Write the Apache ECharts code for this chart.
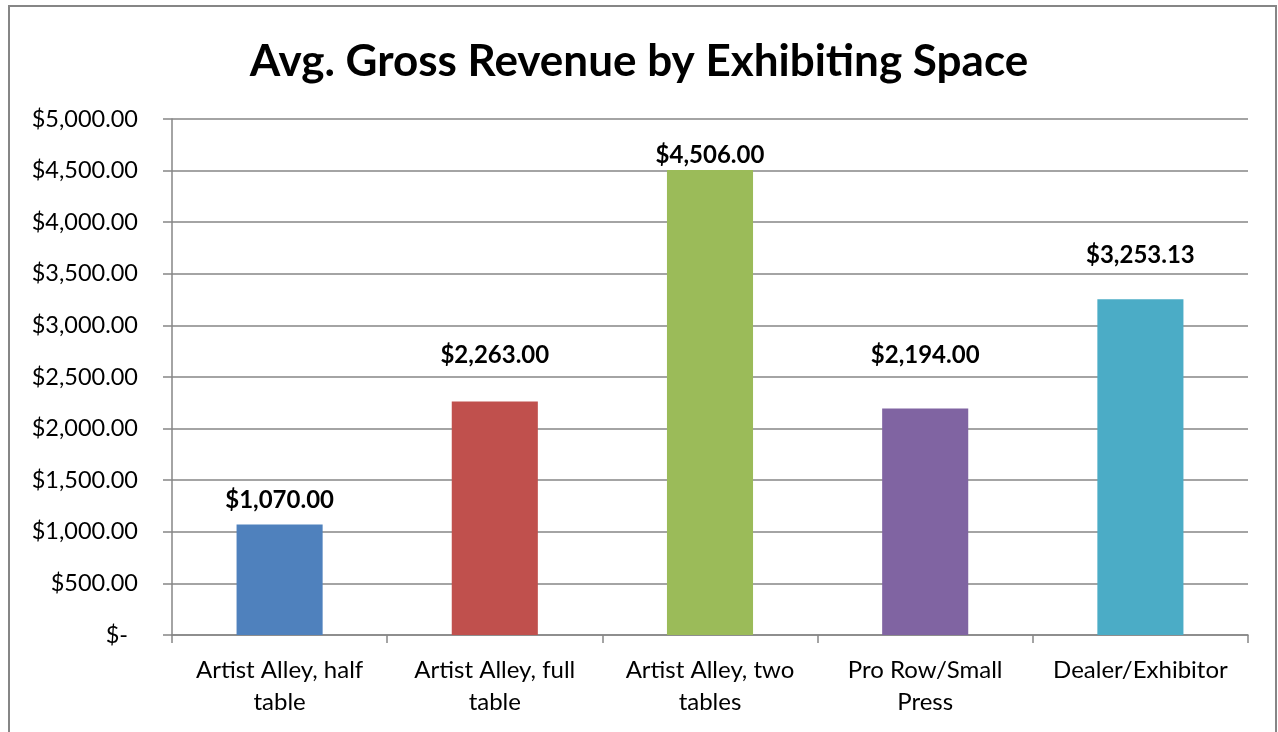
<!DOCTYPE html>
<html>
<head>
<meta charset="utf-8">
<script src="https://cdn.jsdelivr.net/npm/echarts@6/dist/echarts.min.js"></script>
<style>
  html, body { margin: 0; padding: 0; background: #fff; }
  #chart { width: 1278px; height: 732px; }
</style>
</head>
<body>
<div id="chart"></div>
<script>
// Exhibiting space categories and their average gross revenue
const categories = [
  'Artist Alley, half\ntable',
  'Artist Alley, full\ntable',
  'Artist Alley, two\ntables',
  'Pro Row/Small\nPress',
  'Dealer/Exhibitor'
];
const revenue = [1070.00, 2263.00, 4506.00, 2194.00, 3253.13];
const barColors = ['#4F81BD', '#C0504D', '#9BBB59', '#8064A2', '#4BACC6'];
const titleText = 'Avg. Gross Revenue by Exhibiting Space';

const FONT = 'Lato, "Open Sans", sans-serif';
const GRAY = '#868686';
// gap (px) between each bar top and its value label
const LABEL_GAPS = [12, 34, 3, 41, 32];

function money(v) {
  return '$' + v.toLocaleString('en-US', { minimumFractionDigits: 2, maximumFractionDigits: 2 });
}

const chart = echarts.init(document.getElementById('chart'), null, { renderer: 'canvas' });

chart.setOption({
  animation: false,
  backgroundColor: '#fff',
  textStyle: { fontFamily: FONT },
  title: {
    text: titleText,
    left: 'center',
    top: 35,
    textStyle: { fontFamily: FONT, fontSize: 44, fontWeight: 'bold', color: '#000' }
  },
  graphic: [{
    type: 'rect',
    silent: true,
    shape: { x: 9, y: 6, width: 1267, height: 760 },
    style: { fill: 'none', stroke: GRAY, lineWidth: 2 }
  }],
  grid: { left: 172, right: 30, top: 119, bottom: 97, containLabel: false },
  xAxis: {
    type: 'category',
    data: categories,
    axisLine: { lineStyle: { color: GRAY, width: 1.5 } },
    axisTick: { show: true, length: 8, lineStyle: { color: GRAY, width: 1.5 } },
    axisLabel: {
      color: '#000', fontFamily: FONT, fontSize: 24, lineHeight: 32, margin: 19,
      interval: 0
    }
  },
  yAxis: {
    type: 'value',
    min: 0,
    max: 5000,
    interval: 500,
    axisLine: { show: true, lineStyle: { color: GRAY, width: 1.5 } },
    axisTick: { show: true, length: 9, lineStyle: { color: GRAY, width: 1.5 } },
    splitLine: { lineStyle: { color: GRAY, width: 1.5 } },
    axisLabel: {
      color: '#000', fontFamily: FONT, fontSize: 23.5, margin: 34,
      formatter: function (v) { return v === 0 ? '{z|$-}' : money(v); },
      rich: { z: { fontFamily: FONT, fontSize: 23.5, color: '#000', padding: [0, 10, 0, 0] } }
    }
  },
  series: [{
    type: 'bar',
    data: revenue.map((v, i) => ({
      value: v,
      itemStyle: { color: barColors[i] },
      label: { distance: LABEL_GAPS[i] }
    })),
    barWidth: '40%',
    label: {
      show: true,
      position: 'top',
      color: '#000',
      fontFamily: FONT,
      fontSize: 24,
      fontWeight: 'bold',
      formatter: p => money(p.value)
    }
  }]
});
</script>
</body>
</html>
